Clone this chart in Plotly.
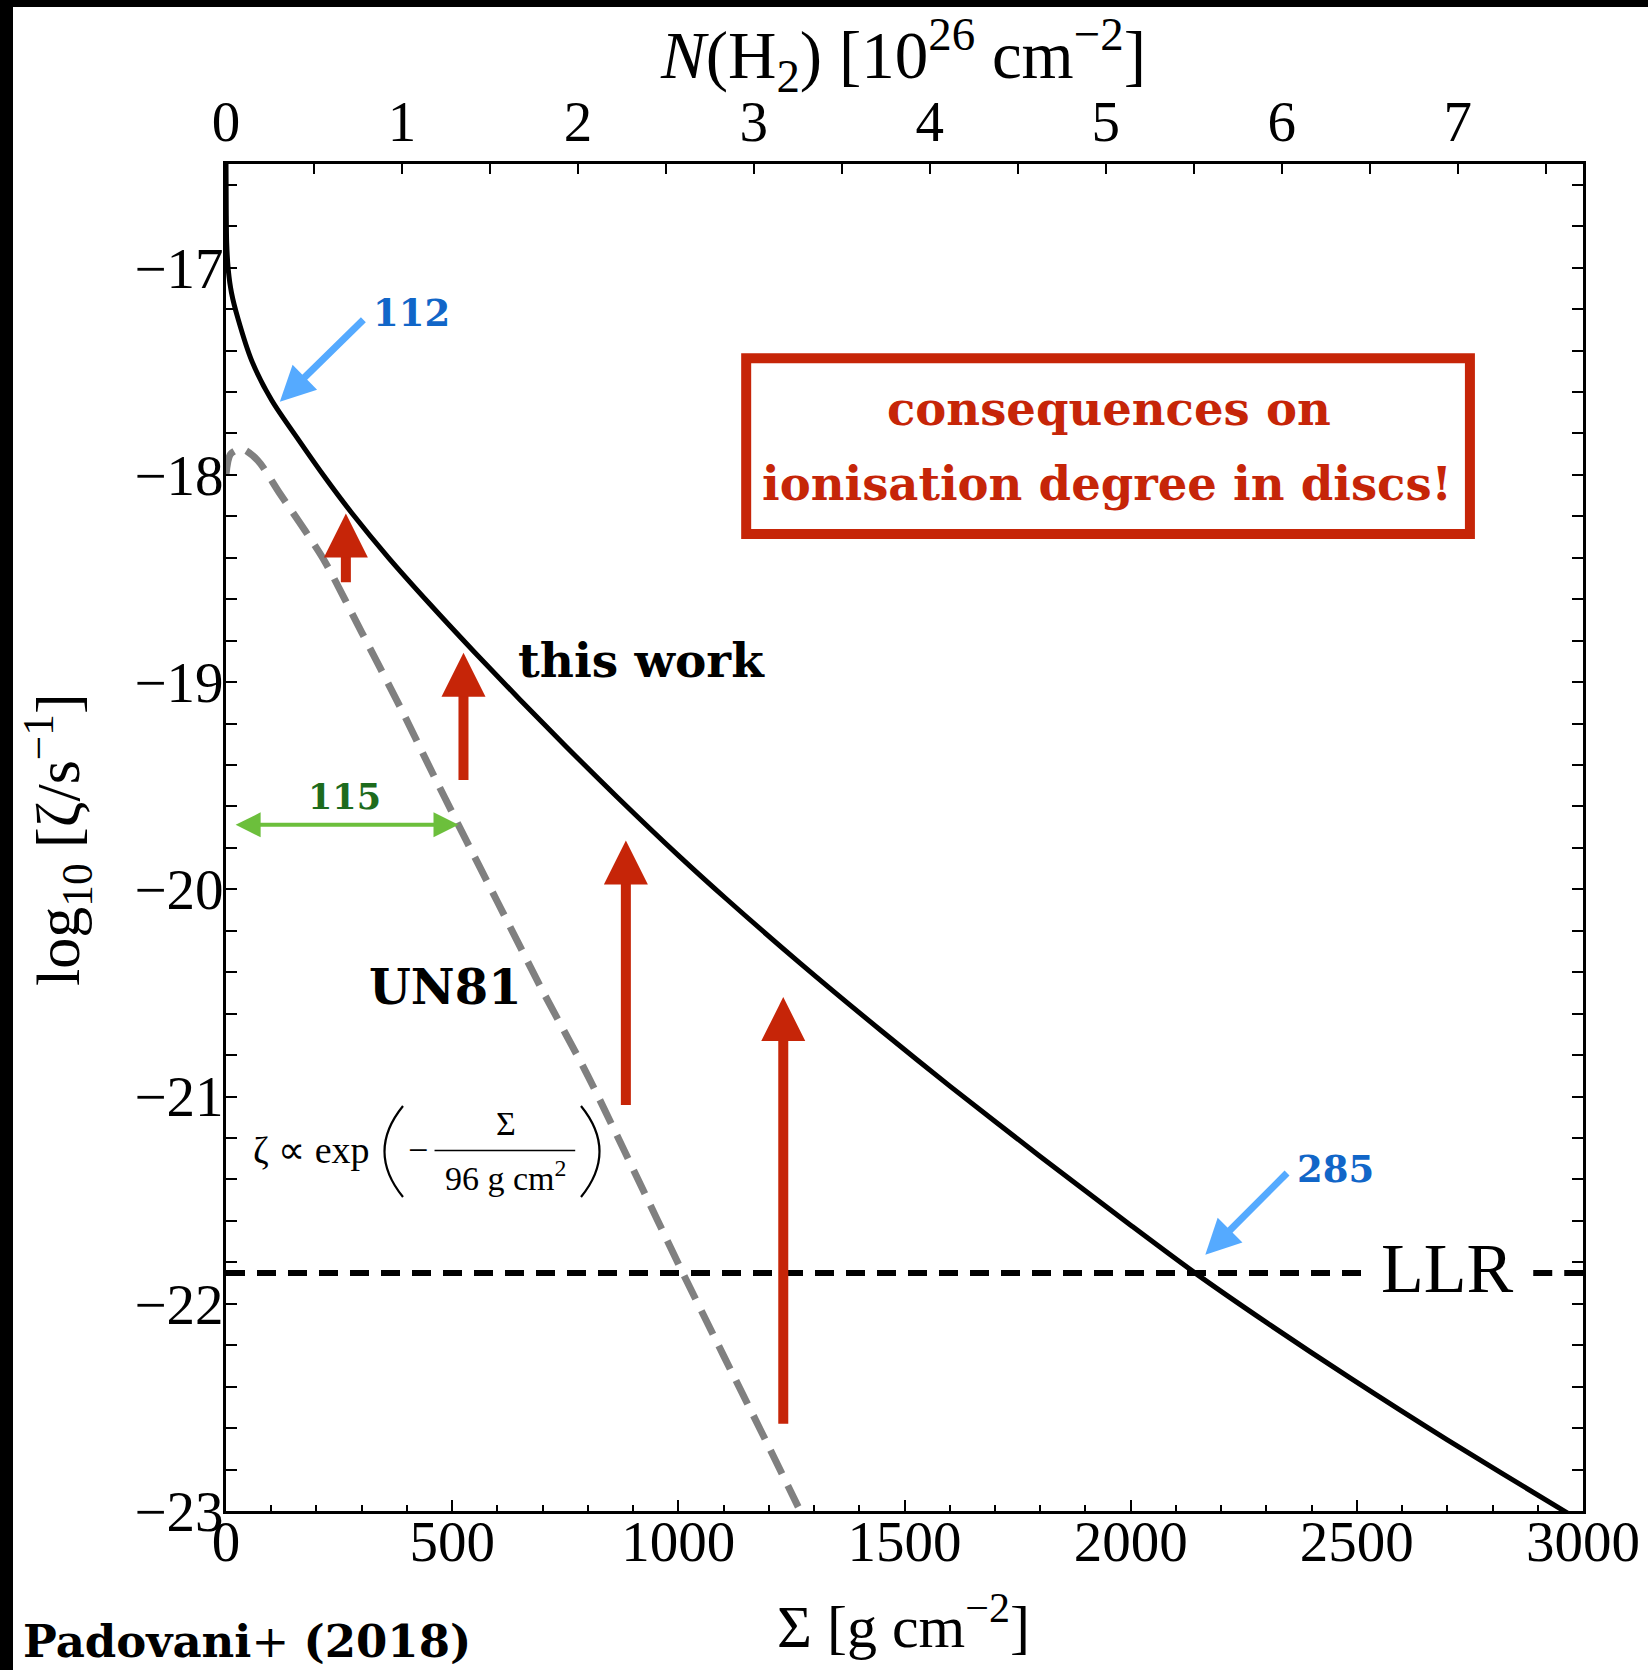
import plotly.graph_objects as go

# ---------------- data ----------------
# "this work": log10 zeta vs surface density Sigma [g cm^-2]
sigma_this_work = [0, 0.5, 1.5, 5, 12, 27, 57, 101, 160, 219, 278, 359, 450, 550, 650,
                   750, 864, 1000, 1107, 1269, 1450, 1601, 1800, 2000, 2142, 2300,
                   2485, 2700, 2968, 3000]
logzeta_this_work = [-16.5, -16.72, -16.88, -17.01, -17.12, -17.25, -17.45, -17.64, -17.83,
                     -18.013, -18.184, -18.399, -18.622, -18.857, -19.085, -19.307, -19.553,
                     -19.836, -20.048, -20.356, -20.685, -20.951, -21.289, -21.621, -21.851,
                     -22.090, -22.358, -22.657, -23.013, -23.055]

# UN81 (Umebayashi & Nakano 1981)
sigma_un81 = [0, 10, 35, 70, 119, 175, 219, 300, 385, 450, 514, 600, 700, 800, 900,
              1010, 1100, 1200, 1265]
logzeta_un81 = [-18.0, -17.9, -17.875, -17.93, -18.09, -18.27, -18.42, -18.76, -19.12,
                -19.41, -19.69, -20.06, -20.49, -20.90, -21.35, -21.852, -22.25,
                -22.69, -22.98]

# low-level radioactivity
LLR = -21.852
llr_segments = [[0, 2525], [2890, 3000]]

# red "increase" arrows: Sigma, base (UN81 side) and tip (this work)
arrow_sigma = [265, 525, 884, 1232]
arrow_base = [-18.526, -19.48, -21.048, -22.586]
arrow_tip = [-18.186, -18.858, -19.765, -20.52]

# blue labelled arrows: (label, text pos, tail, head)
blue_labels = ["112", "285"]
blue_text_pos = [(409, -17.217), (2452, -21.352)]
blue_tail = [(307, -17.245), (2349, -21.362)]
blue_head = [(119, -17.647), (2165, -21.764)]

# green double arrow "115"
green_label = "115"
green_span = [18, 514]
green_y = -19.689
green_text_pos = (261, -19.554)

# axes
x_range = [0, 3000]
y_range = [-23, -16.5]
y_ticks = [-23, -22, -21, -20, -19, -18, -17]
x_ticks = [0, 500, 1000, 1500, 2000, 2500, 3000]
SIGMA_PER_N = 389.0          # g cm^-2 per 1e26 cm^-2 of H2
n_ticks = [0, 1, 2, 3, 4, 5, 6, 7]

# ---------------- style ----------------
REG = "Liberation Serif"
BOLD = "DejaVu Serif"
RED = "#c62508"
BLUE_ARROW = "#55aaff"
BLUE_TEXT = "#1166c8"
GREEN_ARROW = "#6cbf3c"
GREEN_TEXT = "#1d6b1d"

W, H = 1648, 1670
ML, MR, MT, MB = 226, 65, 164, 159
PW, PH = W - ML - MR, H - MT - MB
SX = (x_range[1] - x_range[0]) / PW      # data units per pixel
SY = (y_range[1] - y_range[0]) / PH


def px_to_paper(px, py):
    return (px - ML) / PW, (H - MB - py) / PH


def px_to_data(px, py):
    return (px - ML) * SX + x_range[0], y_range[0] + (H - MB - py) * SY


fig = go.Figure()

# UN81 curve
fig.add_trace(go.Scatter(x=sigma_un81, y=logzeta_un81, mode="lines",
                         line=dict(color="#808080", width=7, dash="26px,13px",
                                   shape="spline", smoothing=0.8),
                         hoverinfo="skip", showlegend=False))
# LLR line
for seg in llr_segments:
    fig.add_trace(go.Scatter(x=seg, y=[LLR, LLR], mode="lines",
                             line=dict(color="black", width=6, dash="19px,12px"),
                             hoverinfo="skip", showlegend=False))
# this work curve
fig.add_trace(go.Scatter(x=sigma_this_work, y=logzeta_this_work, mode="lines",
                         line=dict(color="black", width=5, shape="spline", smoothing=0.8),
                         hoverinfo="skip", showlegend=False))
# helper trace for the top N(H2) axis (invisible)
fig.add_trace(go.Scatter(x=[0, x_range[1] / SIGMA_PER_N], y=[y_range[0] - 5] * 2,
                         xaxis="x2", mode="lines", line=dict(width=0),
                         hoverinfo="skip", showlegend=False))

ann = []
# red arrows
for s, b, t in zip(arrow_sigma, arrow_base, arrow_tip):
    ann.append(dict(x=s, y=t, ax=s, ay=b, xref="x", yref="y", axref="x", ayref="y",
                    text="", showarrow=True, arrowhead=2, arrowsize=0.88,
                    arrowwidth=10, arrowcolor=RED, standoff=0))
# blue arrows + labels
for lab, tp, tl, hd in zip(blue_labels, blue_text_pos, blue_tail, blue_head):
    ann.append(dict(x=hd[0], y=hd[1], ax=tl[0], ay=tl[1], xref="x", yref="y",
                    axref="x", ayref="y", text="", showarrow=True, arrowhead=2,
                    arrowsize=1.0, arrowwidth=7, arrowcolor=BLUE_ARROW, standoff=0))
    ann.append(dict(x=tp[0], y=tp[1], xref="x", yref="y", text="<b>%s</b>" % lab,
                    showarrow=False, font=dict(family=BOLD, size=37, color=BLUE_TEXT)))
# green double arrow
ann.append(dict(x=green_span[1], y=green_y, ax=green_span[0], ay=green_y, xref="x", yref="y",
                axref="x", ayref="y", text="", showarrow=True, arrowhead=2, startarrowhead=2,
                arrowside="end+start", arrowsize=1.25, startarrowsize=1.25, arrowwidth=4,
                arrowcolor=GREEN_ARROW, standoff=0, startstandoff=0))
ann.append(dict(x=green_text_pos[0], y=green_text_pos[1], xref="x", yref="y",
                text="<b>%s</b>" % green_label, showarrow=False,
                font=dict(family=BOLD, size=35, color=GREEN_TEXT)))

# curve labels
ann.append(dict(x=918, y=-18.896, xref="x", yref="y", text="<b>this work</b>",
                showarrow=False, font=dict(family=BOLD, size=47, color="black")))
ann.append(dict(x=485, y=-20.473, xref="x", yref="y", text="<b>UN81</b>",
                showarrow=False, font=dict(family=BOLD, size=48, color="black")))
ann.append(dict(x=2700, y=LLR, xref="x", yref="y", text="LLR", showarrow=False,
                yshift=5, font=dict(family=REG, size=70, color="black")))

# formula  zeta ∝ exp(-Sigma / 96 g cm^2)
FS = 36
ann.append(dict(x=190, y=-21.257, xref="x", yref="y", text="ζ ∝ exp", showarrow=False,
                font=dict(family=REG, size=FS + 2, color="black")))
ann.append(dict(x=424, y=-21.26, xref="x", yref="y", text="−", showarrow=False,
                font=dict(family=REG, size=FS, color="black")))
ann.append(dict(x=619, y=-21.13, xref="x", yref="y", text="Σ", showarrow=False,
                font=dict(family=REG, size=FS - 2, color="black")))
ann.append(dict(x=617, y=-21.385, xref="x", yref="y", text="96 g cm<sup>2</sup>",
                showarrow=False, font=dict(family=REG, size=FS - 2, color="black")))

# boxed message
ann.append(dict(x=1952, y=-17.68, xref="x", yref="y", text="<b>consequences on</b>",
                showarrow=False, font=dict(family=BOLD, size=46.5, color=RED)))
ann.append(dict(x=1948, y=-18.04, xref="x", yref="y",
                text="<b>ionisation degree in discs!</b>",
                showarrow=False, font=dict(family=BOLD, size=46.5, color=RED)))

# axis titles
px, py = px_to_paper(903, 1622)
ann.append(dict(x=px, y=py, xref="paper", yref="paper", showarrow=False,
                xanchor="center", yanchor="middle",
                text="Σ [g cm<sup>−2</sup>]", font=dict(family=REG, size=60, color="black")))
px, py = px_to_paper(903, 55)
ann.append(dict(x=px, y=py, xref="paper", yref="paper", showarrow=False,
                xanchor="center", yanchor="middle",
                text="<i>N</i>(H<sub>2</sub>) [10<sup>26</sup> cm<sup>−2</sup>]",
                font=dict(family=REG, size=67, color="black")))
px, py = px_to_paper(57, 840)
ann.append(dict(x=px, y=py, xref="paper", yref="paper", showarrow=False, textangle=-90,
                xanchor="center", yanchor="middle",
                text="log<sub>10</sub> [ζ/s<sup>−1</sup>]",
                font=dict(family=REG, size=62, color="black")))
px, py = px_to_paper(21, 1641)
ann.append(dict(x=px, y=py, xref="paper", yref="paper", showarrow=False, xanchor="left",
                yanchor="middle",
                text="<b>Padovani</b>+ <b>(2018)</b>",
                font=dict(family=BOLD, size=45, color="black")))


# parentheses of the formula, drawn as thin curves (pixel layout -> data units)
def paren_path(x_end, x_ctrl, y_top, y_bot):
    a = px_to_data(x_end, y_top)
    c = px_to_data(x_ctrl, (y_top + y_bot) / 2)
    b = px_to_data(x_end, y_bot)
    return "M %f,%f Q %f,%f %f,%f" % (a[0], a[1], c[0], c[1], b[0], b[1])


shapes = [
    # message box
    dict(type="rect", xref="x", yref="y", x0=1150, x1=2750, y0=-18.286, y1=-17.437,
         line=dict(color=RED, width=10), fillcolor="rgba(0,0,0,0)"),
    # fraction bar
    dict(type="line", xref="x", yref="y", x0=461, x1=772, y0=-21.26, y1=-21.26,
         line=dict(color="black", width=1.5)),
    dict(type="path", xref="x", yref="y", path=paren_path(403, 366, 1106, 1197),
         line=dict(color="black", width=2.2)),
    dict(type="path", xref="x", yref="y", path=paren_path(581, 618, 1106, 1197),
         line=dict(color="black", width=2.2)),
]
# black frame bands of the original image (top and left)
x0p, y1p = px_to_paper(0, 0)
x1p, y0p = px_to_paper(W, 7)
shapes.append(dict(type="rect", xref="paper", yref="paper", x0=x0p, x1=x1p, y0=y0p, y1=y1p,
                   fillcolor="black", line=dict(width=0), layer="above"))
x0p, y1p = px_to_paper(0, 0)
x1p, y0p = px_to_paper(13, H)
shapes.append(dict(type="rect", xref="paper", yref="paper", x0=x0p, x1=x1p, y0=y0p, y1=y1p,
                   fillcolor="black", line=dict(width=0), layer="above"))

tickfont = dict(family=REG, size=57, color="black")

fig.update_layout(
    width=W, height=H,
    margin=dict(l=ML, r=MR, t=MT, b=MB, autoexpand=False),
    paper_bgcolor="white", plot_bgcolor="white",
    showlegend=False,
    annotations=ann,
    shapes=shapes,
    xaxis=dict(range=x_range, tickmode="array", tickvals=x_ticks,
               ticktext=[str(v) for v in x_ticks], ticks="inside", ticklen=11, tickwidth=2,
               tickcolor="black", showline=True, linecolor="black", linewidth=3,
               mirror=True, showgrid=False, zeroline=False, tickfont=tickfont,
               ticklabelstandoff=-21,
               minor=dict(dtick=100, tick0=0, ticks="inside", ticklen=6, tickwidth=2,
                          tickcolor="black", showgrid=False)),
    xaxis2=dict(range=[x_range[0] / SIGMA_PER_N, x_range[1] / SIGMA_PER_N],
                overlaying="x", side="top", anchor="y", tickmode="array",
                tickvals=n_ticks, ticktext=[str(v) for v in n_ticks],
                ticks="inside", ticklen=10, tickwidth=2, tickcolor="black",
                showline=True, linecolor="black", linewidth=3, showgrid=False,
                zeroline=False, tickfont=tickfont, ticklabelstandoff=-3,
                minor=dict(dtick=0.5, tick0=0, ticks="inside", ticklen=10, tickwidth=2,
                           tickcolor="black", showgrid=False)),
    yaxis=dict(range=y_range, tickmode="array", tickvals=y_ticks,
               ticktext=["−%d" % abs(v) for v in y_ticks], ticks="inside", ticklen=11,
               tickwidth=2, tickcolor="black", showline=True, linecolor="black",
               linewidth=3, mirror="allticks", showgrid=False, zeroline=False,
               tickfont=tickfont, ticklabelstandoff=-12,
               minor=dict(dtick=0.2, tick0=-23, ticks="inside", ticklen=6, tickwidth=2,
                          tickcolor="black", showgrid=False)),
)

fig.write_html("out.html")
